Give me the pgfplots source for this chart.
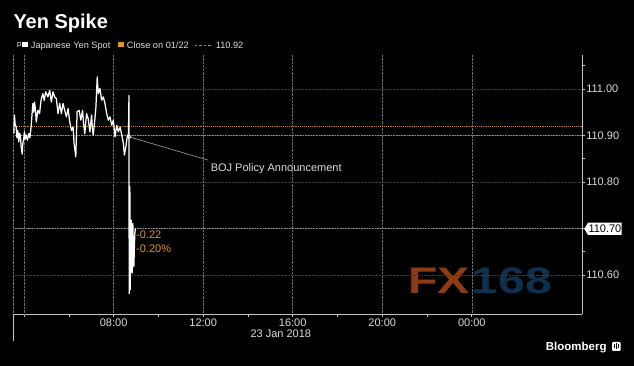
\documentclass[border=0pt]{standalone}
\usepackage{pgfplots}
\pgfplotsset{compat=1.18}
\usepackage{fontspec}
\setmainfont{Liberation Sans}
\definecolor{tickgray}{HTML}{DCDCDC}
\definecolor{gridv}{HTML}{707070}
\definecolor{gridh}{HTML}{3A3A3A}
\definecolor{refline}{HTML}{8C8C8C}
\definecolor{closeorange}{HTML}{C97A1C}
\definecolor{annorange}{HTML}{E8921E}
\definecolor{fxorange}{HTML}{8E3B14}
\definecolor{fxblue}{HTML}{0E3150}
\definecolor{axisgray}{HTML}{C4C4C4}
\begin{document}
\begin{tikzpicture}
\begin{scope}[x=1pt,y=1pt]
\useasboundingbox (0,0) rectangle (634,366);
\fill[black] (0,0) rectangle (634,366);
% watermark
\node[anchor=base west, inner sep=0pt, text=fxorange, font=\fontsize{37}{40}\selectfont\bfseries, xscale=1.3] at (408.3,72.7) {FX};
\node[anchor=base west, inner sep=0pt, text=fxblue, font=\fontsize{37}{40}\selectfont\bfseries, xscale=1.3] at (471.7,72.7) {168};
\end{scope}
\begin{axis}[
  at={(13.3pt,51.7pt)}, anchor=south west, scale only axis,
  width=569pt, height=259.3pt,
  xmin=3.518, xmax=28.937, ymin=110.5155, ymax=111.0731,
  axis x line*=bottom, axis y line*=right,
  axis line style={axisgray, line width=0.8pt},
  xtick={8,12,16,20,24}, xticklabels={08:00,12:00,16:00,20:00,00:00},
  minor xtick={4,6,10,14,18,22},
  ytick={110.6,110.7,110.8,110.9,111.0}, yticklabels={110.60,,110.80,110.90,111.00},
  minor ytick={110.65,110.85,111.05},
  tick style={axisgray, line width=0.6pt}, major tick length=3pt, minor tick length=3pt, tick align=outside,
  xmajorgrids, ymajorgrids,
  every axis x grid/.append style={gridv, densely dotted, line width=0.5pt},
  every axis y grid/.append style={gridh, densely dotted, line width=0.6pt},
  extra x ticks={3.518,4}, extra x tick labels={,}, extra x tick style={grid=major, major tick length=0pt},
  tick label style={font=\fontsize{11}{13}\selectfont, text=tickgray},
  xticklabel style={inner sep=1pt},
  yticklabel style={inner sep=0.8pt, anchor=west},
  /pgf/number format/assume math mode=true,
  clip mode=individual,
]
\addplot[closeorange, densely dotted, line width=0.9pt] coordinates {(3.518,110.92) (28.937,110.92)};
\addplot[refline, densely dotted, line width=0.6pt] coordinates {(3.518,110.90) (28.937,110.90)};
\addplot[refline, densely dotted, line width=0.6pt] coordinates {(3.518,110.70) (28.937,110.70)};
\addplot[white, line width=1.25pt, line join=round] coordinates {
(3.52,110.926) (3.545,110.905) (3.569,110.944) (3.60,110.925) (3.645,110.918) (3.68,110.895) (3.717,110.911) (3.762,110.886)
(3.80,110.905) (3.838,110.897) (3.87,110.875) (3.915,110.860) (3.94,110.882) (3.973,110.890) (4.018,110.908) (4.05,110.892) (4.094,110.901)
(4.15,110.890) (4.211,110.904) (4.26,110.895) (4.319,110.922) (4.391,110.969) (4.43,110.950) (4.467,110.972) (4.51,110.955) (4.544,110.929)
(4.616,110.954) (4.692,110.947) (4.73,110.965) (4.769,110.979) (4.840,110.990) (4.90,110.975) (4.962,110.994)
(5.065,110.983) (5.142,110.997) (5.218,110.972) (5.290,110.994) (5.366,110.983)
(5.443,110.979) (5.515,110.947) (5.591,110.969) (5.667,110.947) (5.739,110.969)
(5.816,110.954) (5.892,110.940) (5.964,110.958) (6.040,110.929) (6.117,110.911)
(6.189,110.918) (6.234,110.883) (6.310,110.854) (6.369,110.951) (6.458,110.954)
(6.535,110.933) (6.611,110.954) (6.66,110.925) (6.712,110.904) (6.791,110.947) (6.863,110.936)
(6.939,110.908) (7.016,110.944) (7.05,110.915) (7.088,110.901) (7.164,110.936) (7.209,110.961)
(7.267,111.026) (7.312,110.990) (7.389,111.001) (7.465,110.976) (7.537,110.983)
(7.613,110.969) (7.690,110.947) (7.762,110.933) (7.838,110.940) (7.915,110.922)
(7.987,110.933) (8.063,110.897) (8.139,110.922) (8.211,110.908) (8.288,110.918)
(8.364,110.901) (8.436,110.883) (8.481,110.858) (8.557,110.879) (8.616,110.901)
(8.661,110.897) (8.685,110.986) (8.695,110.560) (8.705,110.790) (8.715,110.632)
(8.725,110.790) (8.737,110.568) (8.782,110.718) (8.827,110.604) (8.858,110.711)
(8.903,110.618) (8.948,110.690) (8.975,110.700)
};
\draw[refline!80!white, line width=0.6pt] (axis cs:8.70,110.897) -- (axis cs:12.223,110.847);
\draw[white, line width=0.6pt] (axis cs:8.70,110.897) circle[radius=1.8pt];
\node[anchor=west, inner sep=0pt, text=tickgray, font=\fontsize{11}{13}\selectfont] at (axis cs:12.33,110.829) {BOJ Policy Announcement};
\end{axis}
\begin{scope}[x=1pt,y=1pt]
% date separator and date
\draw[axisgray, line width=0.8pt] (13.3,51.7) -- (13.3,25.3);
\node[anchor=base, inner sep=0pt, text=tickgray, font=\fontsize{11}{13}\selectfont] at (280.8,28) {23 Jan 2018};
% last price box
\fill[white] (584.3,137.15) -- (588,143.3) -- (621.7,143.3) -- (621.7,131) -- (588,131) -- cycle;
\node[anchor=base west, inner sep=0pt, text=black, font=\fontsize{11}{13}\selectfont] at (588.3,133.3) {110.70};
% change annotation
\node[anchor=west, inner sep=0pt, text=annorange, font=\fontsize{11}{13}\selectfont] at (136,131) {-0.22};
\node[anchor=west, inner sep=0pt, text=annorange, font=\fontsize{11}{13}\selectfont] at (136,117.7) {-0.20\%};
% title
\node[anchor=base west, inner sep=0pt, text=white, font=\fontsize{20}{24}\selectfont\bfseries] at (13.3,337) {Yen Spike};
% legend
\draw[refline, line width=0.6pt] (17.5,318.5) -- (17.5,323.8) -- (20.5,323.8) -- (20.5,320.5) -- (17.5,320.5);
\fill[white] (22.3,318.7) rectangle (27.7,324);
\node[anchor=base west, inner sep=0pt, text=tickgray, font=\fontsize{9.2}{11}\selectfont] at (30.7,317) {Japanese Yen Spot};
\fill[annorange] (118.3,318.7) rectangle (124,324);
\node[anchor=base west, inner sep=0pt, text=tickgray, font=\fontsize{9.2}{11}\selectfont] at (126.7,317) {Close on 01/22};
\draw[refline, dash pattern=on 2.5pt off 2pt, line width=0.8pt] (194.5,320.8) -- (211.5,320.8);
\node[anchor=base west, inner sep=0pt, text=tickgray, font=\fontsize{9.2}{11}\selectfont] at (215.7,317) {110.92};
% Bloomberg
\node[anchor=base west, inner sep=0pt, text=white, font=\fontsize{11.5}{13}\selectfont\bfseries] at (545.7,15.3) {Bloomberg};
\fill[white, rounded corners=1pt] (612,15) rectangle (620.7,24);
\fill[black] (614,17.5) rectangle (614.8,22);
\fill[black] (615.9,16.5) rectangle (616.7,22.5);
\fill[black] (617.8,18) rectangle (618.6,21.5);
\end{scope}
\end{tikzpicture}
\end{document}
